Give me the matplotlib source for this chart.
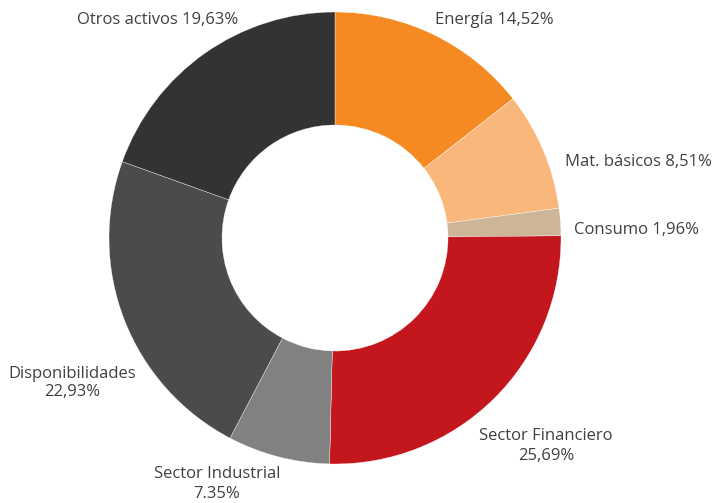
import matplotlib.pyplot as plt

# portfolio breakdown (%)
sectores = ["Energía", "Mat. básicos", "Consumo", "Sector Financiero",
            "Sector Industrial", "Disponibilidades", "Otros activos"]
pesos = [14.52, 8.51, 1.96, 25.69, 7.35, 22.93, 19.63]
etiquetas = ["Energía 14,52%", "Mat. básicos 8,51%", "Consumo 1,96%",
             "Sector Financiero\n25,69%", "Sector Industrial\n7.35%",
             "Disponibilidades\n22,93%", "Otros activos 19,63%"]
colores = ["#F58A22", "#F9B77B", "#CDB598", "#C3161D",
           "#808180", "#4B4B4B", "#333333"]

# label positions in pixels (from top-left)
pos_etiquetas = [(494, 20), (638, 162), (636, 230), (546, 446),
                 (217, 484), (72, 383), (158, 20)]

W, H = 716, 503
fig = plt.figure(figsize=(W / 100, H / 100), dpi=100)
ax = fig.add_axes([0, 0, 1, 1])
ax.axis("off")

ax.pie(pesos, colors=colores, startangle=90, counterclock=False,
       center=(335, H - 238), radius=226,
       wedgeprops=dict(width=113, edgecolor="white", linewidth=0.25))
ax.set_xlim(0, W)
ax.set_ylim(0, H)
ax.set_aspect("equal")

for txt, (x, y) in zip(etiquetas, pos_etiquetas):
    ax.text(x, H - y, txt, ha="center", va="center", fontsize=12,
            color="#404040", family="Open Sans", linespacing=1.25)

fig.savefig("out.png", dpi=100)
